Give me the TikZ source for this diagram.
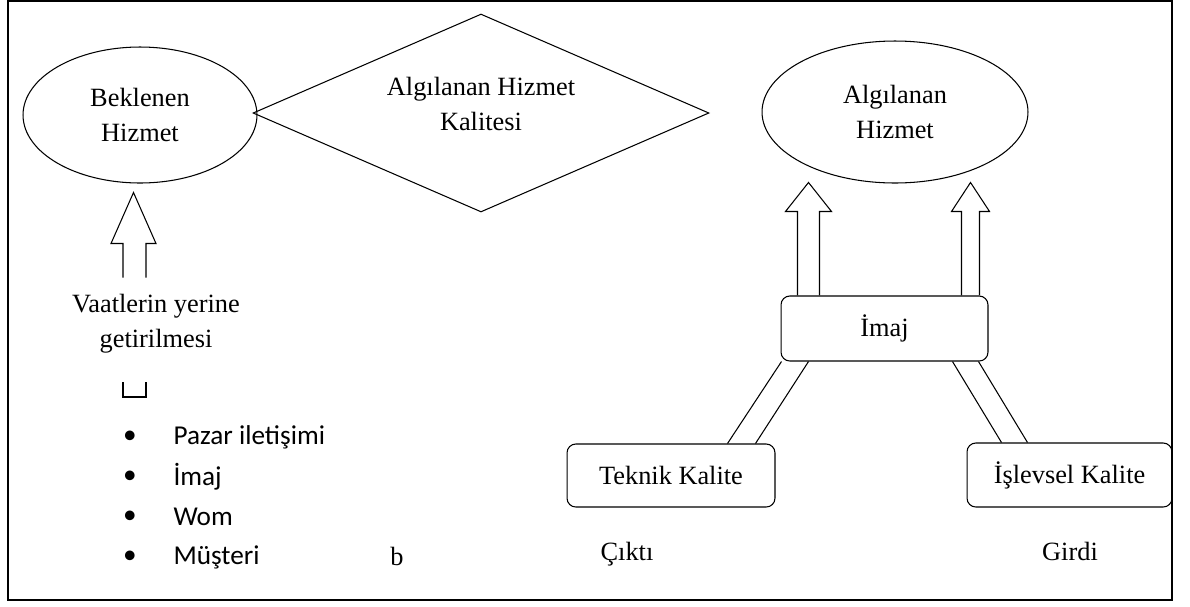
\documentclass[tikz,border=0pt]{standalone}
\usepackage{fontspec}
\setmainfont{Liberation Serif}
\newfontfamily\calibri{Carlito}
\usetikzlibrary{shapes.geometric,calc}

\begin{document}
\begin{tikzpicture}[x=0.02cm,y=-0.02cm,line width=0.6pt,
        font=\fontsize{15}{19.8}\selectfont,
        oval/.style={draw,ellipse,inner sep=0pt,align=center},
        rhomb/.style={draw,diamond,aspect=2.3,inner sep=0pt,align=center,minimum width=9.12cm,minimum height=3.96cm},
        roundbox/.style={draw,rounded corners=5pt,inner sep=0pt},
        listtext/.style={font=\calibri\fontsize{15.5}{18}\selectfont,inner sep=0pt}]

    \useasboundingbox (0,0) rectangle (1190,606);
    \draw[line width=1pt] (8,1) rectangle (1172,600);

    \node[oval,minimum width=4.68cm,minimum height=2.72cm] (beklenen) at (140,115) {Beklenen\\Hizmet};
    \node[rhomb] (kalite) at (481,113) {Algılanan Hizmet\\Kalitesi\\[-9.6pt]};
    \node[oval,minimum width=5.32cm,minimum height=2.84cm] (algilanan) at (895,112) {Algılanan\\Hizmet};

    \node[roundbox,minimum width=4.14cm,minimum height=1.3cm] (imaj) at (884.5,328.5) {İmaj};
    \node[roundbox,minimum width=4.16cm,minimum height=1.26cm] (teknik) at (671,475.5) {Teknik Kalite};
    \node[roundbox,minimum width=4.1cm,minimum height=1.28cm] (islevsel) at (1069.5,475) {İşlevsel Kalite};

    % up arrows
    \draw ($(beklenen.south)+(-17,94)$) -- ++(0,-34) -- ++(-12,0) -- ++(22.5,-51)
        -- ++(22.5,51) -- ++(-10,0) -- ++(0,34);
    \draw ($(imaj.north west)+(17,0)$) -- ++(0,-84) -- ++(-12,0) -- ++(23,-29)
        -- ++(23,29) -- ++(-12,0) -- ++(0,84);
    \draw ($(imaj.north east)+(-27,0)$) -- ++(0,-84) -- ++(-10,0) -- ++(19,-29)
        -- ++(19,29) -- ++(-10,0) -- ++(0,84);

    % bars down to the boxes
    \draw ($(imaj.south west)+(1,0)$) -- ($(teknik.north east)+(-48,0)$);
    \draw ($(imaj.south west)+(28,0)$) -- ($(teknik.north east)+(-20,0)$);
    \draw ($(imaj.south east)+(-36,0)$) -- ($(islevsel.north west)+(35,0)$);
    \draw ($(imaj.south east)+(-10,0)$) -- ($(islevsel.north west)+(61,0)$);

    \node[align=center] (vaat) at (156,324) {Vaatlerin yerine\\getirilmesi};
    \draw (123,382) -- (123,397) -- (146,397) -- (146,382);

    \foreach \txt [count=\i] in {Pazar iletişimi,İmaj,Wom,Müşteri} {
        \node[listtext] (dot\i) at (130,397+40*\i) {•};
        \node[listtext,anchor=west] (item\i) at (173,397+40*\i) {\txt};
    }

    \node[anchor=base] (b) at (397,565) {b};
    \node[anchor=base] (cikti) at (627,560) {Çıktı};
    \node[anchor=base] (girdi) at (1070,560) {Girdi};
\end{tikzpicture}
\end{document}
